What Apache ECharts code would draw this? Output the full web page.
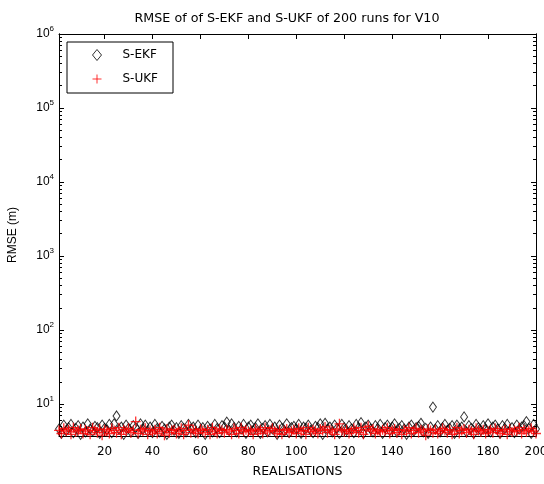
<!DOCTYPE html>
<html><head><meta charset="utf-8">
<script src="https://cdn.jsdelivr.net/npm/echarts@6/dist/echarts.min.js"></script>
<style>html,body{margin:0;padding:0;background:#fff}#c{width:544px;height:484px}</style>
</head><body><div id="c"></div>
<script>
const chartTitle = 'RMSE of of S-EKF and S-UKF of 200 runs for V10';
const xName = 'REALISATIONS';
const yName = 'RMSE (m)';
const xTicks = [20, 40, 60, 80, 100, 120, 140, 160, 180, 200];
const yMajorTicks = [10, 100, 1000, 10000, 100000, 1000000];
const yMinorTicks = [4,5,6,7,8,9, 20,30,40,50,60,70,80,90, 200,300,400,500,600,700,800,900,
  2000,3000,4000,5000,6000,7000,8000,9000, 20000,30000,40000,50000,60000,70000,80000,90000,
  200000,300000,400000,500000,600000,700000,800000,900000];
const seriesNames = ['S-EKF', 'S-UKF'];
const ekf = [
4.6,4.0,5.2,4.4,4.8,5.3,4.1,4.7,5.1,3.9,4.9,4.2,5.4,4.6,4.3,5.0,4.8,4.0,5.2,4.7,
4.5,5.3,4.1,5.4,6.9,4.6,4.9,3.9,5.2,4.7,4.2,5.1,4.8,4.0,5.4,4.6,5.2,4.3,4.9,4.1,
5.3,4.7,4.2,5.0,4.6,3.9,4.9,5.2,4.4,4.8,4.0,5.1,4.7,4.2,5.3,4.6,4.9,4.1,5.2,4.4,
4.8,3.9,5.0,4.6,4.2,5.3,4.7,4.1,5.1,4.9,5.7,4.4,5.4,4.8,4.2,5.0,4.6,5.3,4.0,4.9,
5.2,4.4,4.8,5.4,4.0,4.7,5.1,4.2,5.3,4.6,4.9,3.9,5.2,4.7,4.3,5.4,4.1,4.8,5.0,4.6,
5.3,4.0,4.9,4.7,5.2,4.4,4.1,5.0,4.8,5.4,3.9,5.5,4.6,4.9,4.2,5.2,4.7,4.0,5.3,4.8,
4.4,5.1,4.6,4.1,5.3,4.8,5.6,4.0,4.9,5.2,4.6,4.2,5.1,4.7,5.3,4.0,4.8,5.2,4.4,4.9,
5.4,4.2,4.7,5.1,4.6,3.9,4.9,5.2,4.3,4.8,5.0,5.5,4.2,4.7,4.0,4.9,9.1,4.6,5.1,4.2,
4.8,5.3,4.4,4.7,5.1,4.0,5.2,4.6,4.9,6.7,4.2,5.1,4.7,4.0,5.3,4.8,4.4,5.1,4.6,5.4,
4.2,4.9,5.2,4.6,4.0,5.1,4.7,5.3,4.3,4.8,4.1,5.2,4.6,4.9,5.1,5.8,4.7,4.0,5.3,4.6];
const ukf = [
4.4,4.0,4.7,4.3,4.5,3.9,4.8,4.2,4.4,4.6,4.0,4.5,4.3,3.9,4.8,4.4,4.1,4.6,3.8,4.5,
4.3,4.0,4.7,4.4,4.1,4.8,3.9,4.5,4.3,4.7,4.1,4.4,5.8,4.0,4.5,4.3,4.7,3.9,4.4,4.2,
4.5,4.0,4.8,4.3,3.8,4.6,4.1,4.4,4.5,4.0,4.3,4.7,3.9,4.4,5.2,4.1,4.5,4.3,4.0,4.6,
4.4,4.1,4.5,3.9,4.8,4.3,4.0,4.6,4.4,4.1,4.5,4.3,3.9,4.7,4.4,4.0,4.8,4.3,4.5,4.2,
4.4,3.9,4.6,4.3,4.5,4.0,4.8,4.2,4.4,4.7,4.3,4.0,4.5,3.9,4.4,4.6,4.1,4.3,4.5,4.0,
4.7,4.3,4.4,3.9,4.8,4.2,4.5,4.3,4.0,4.6,4.4,4.9,4.1,4.5,4.3,3.9,4.6,5.4,4.4,4.2,
4.5,4.0,4.3,4.7,4.4,4.1,4.8,3.9,4.5,5.0,4.3,4.6,4.0,4.4,4.2,4.5,4.3,4.8,4.0,4.4,
4.6,4.1,4.4,3.9,4.5,4.3,4.8,4.0,4.4,4.7,4.1,4.5,4.3,3.8,4.6,4.4,4.1,4.5,4.0,4.3,
4.7,4.4,4.1,4.5,3.9,4.3,4.8,4.0,4.4,4.6,4.1,4.5,4.3,3.9,4.7,4.4,4.2,4.5,4.0,4.3,
4.5,4.1,4.7,4.4,4.0,4.3,4.5,3.9,4.6,4.2,4.4,4.3,4.8,4.0,4.5,4.2,4.4,4.7,4.3,4.0];

const FONT = 'Liberation Sans, Arial, sans-serif';
const WFONT = 'DejaVu Sans, Verdana, sans-serif';
const X_MIN = 1, X_MAX = 200, Y_MIN = 3.7, Y_MAX = 1000000;
const pts = arr => arr.map((v, i) => [i + 1, v]);

const axisLine = { show: true, onZero: false, lineStyle: { color: '#000', width: 1 } };
function xAxisDef(pos, labels) {
  return {
    type: 'value', position: pos, min: X_MIN, max: X_MAX,
    name: labels ? xName : '', nameLocation: 'middle', nameGap: 29,
    nameTextStyle: { color: '#000', fontFamily: WFONT, fontSize: 12.5 },
    axisLine,
    axisTick: { show: true, inside: true, length: 5, customValues: xTicks, lineStyle: { color: '#000' } },
    axisLabel: { show: labels, customValues: xTicks, color: '#000', fontFamily: WFONT, fontSize: 12, margin: 10 },
    splitLine: { show: false }
  };
}
function yAxisDef(pos, ticks, len, labels) {
  return {
    type: 'log', logBase: 10, position: pos, min: Y_MIN, max: Y_MAX,
    name: labels ? yName : '', nameLocation: 'middle', nameGap: 40,
    nameTextStyle: { color: '#000', fontFamily: FONT, fontSize: 12 },
    axisLine,
    axisTick: { show: true, inside: true, length: len, customValues: ticks, lineStyle: { color: '#000' } },
    axisLabel: {
      show: labels, customValues: yMajorTicks, margin: 5,
      formatter: v => '{b|10}{e|' + Math.round(Math.log10(v)) + '}',
      rich: {
        b: { color: '#000', fontFamily: FONT, fontSize: 12 },
        e: { color: '#000', fontFamily: FONT, fontSize: 8, padding: [0, 0, 10, 0] }
      }
    },
    splitLine: { show: false }
  };
}

const chart = echarts.init(document.getElementById('c'), null, { renderer: 'canvas' });
chart.setOption({
  animation: false,
  backgroundColor: '#fff',
  title: {
    text: chartTitle, left: 282, top: 7, textAlign: 'center',
    textStyle: { color: '#000', fontFamily: WFONT, fontSize: 12.7, fontWeight: 'normal' }
  },
  grid: { left: 59, right: 8, top: 34, bottom: 48, containLabel: false, outerBoundsMode: 'none' },
  legend: {
    orient: 'vertical', left: 67, top: 42,
    padding: [7, 15, 8, 25], itemGap: 12, itemWidth: 9, itemHeight: 11,
    borderColor: '#000', borderWidth: 1, backgroundColor: '#fff',
    itemStyle: { borderWidth: 1 },
    textStyle: { color: '#000', fontFamily: WFONT, fontSize: 12, padding: [0, 0, 0, 16] },
    data: seriesNames
  },
  xAxis: [xAxisDef('bottom', true), xAxisDef('top', false)],
  yAxis: [
    yAxisDef('left', yMajorTicks, 5, true),
    yAxisDef('left', yMinorTicks, 3, false),
    yAxisDef('right', yMajorTicks, 5, false),
    yAxisDef('right', yMinorTicks, 3, false)
  ],
  series: [
    {
      name: seriesNames[0], type: 'scatter', xAxisIndex: 0, yAxisIndex: 0,
      symbol: 'diamond', symbolSize: [7, 10],
      itemStyle: { color: 'rgba(0,0,0,0)', borderColor: '#000', borderWidth: 1 },
      data: pts(ekf)
    },
    {
      name: seriesNames[1], type: 'scatter', xAxisIndex: 0, yAxisIndex: 0,
      symbol: 'path://M5,0V10M0,5H10', symbolSize: 10,
      itemStyle: { color: 'rgba(0,0,0,0)', borderColor: '#ff0000', borderWidth: 1.3 },
      data: pts(ukf)
    }
  ]
});
</script></body></html>
